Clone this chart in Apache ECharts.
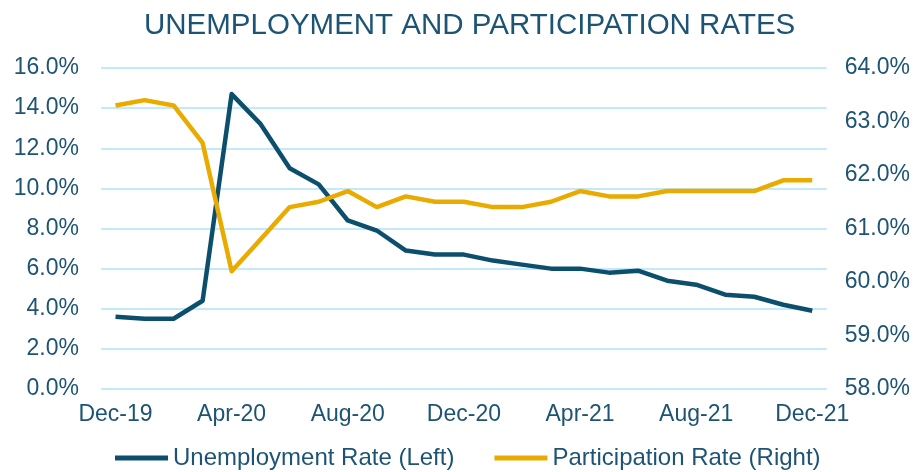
<!DOCTYPE html>
<html>
<head>
<meta charset="utf-8">
<script src="https://cdn.jsdelivr.net/npm/echarts@6/dist/echarts.min.js"></script>
<style>
html,body{margin:0;padding:0;background:#fff}
#main{width:913px;height:472px}
</style>
</head>
<body>
<div id="main"></div>
<script>
// months Dec-19 .. Dec-21
let months=["Dec-19","Jan-20","Feb-20","Mar-20","Apr-20","May-20","Jun-20","Jul-20","Aug-20","Sep-20","Oct-20","Nov-20","Dec-20",
    "Jan-21","Feb-21","Mar-21","Apr-21","May-21","Jun-21","Jul-21","Aug-21","Sep-21","Oct-21","Nov-21","Dec-21"]
let unemployment=[3.6,3.5,3.5,4.4,14.7,13.2,11.0,10.2,8.4,7.9,6.9,6.7,6.7,6.4,6.2,6.0,6.0,5.8,5.9,5.4,5.2,4.7,4.6,4.2,3.9]
let participation=[63.3,63.4,63.3,62.6,60.2,60.8,61.4,61.5,61.7,61.4,61.6,61.5,61.5,61.4,61.4,61.5,61.7,61.6,61.6,61.7,61.7,61.7,61.7,61.9,61.9]
let series_names=["Unemployment Rate (Left)","Participation Rate (Right)"]

let txtColor='#1d5474'
let fontName="'Liberation Sans', Arial, sans-serif"
let chart=echarts.init(document.getElementById('main'))
chart.setOption({
    animation:false,
    color:['#0c4f6c','#e9ab00'],
    title:{
        text:'UNEMPLOYMENT AND PARTICIPATION RATES',
        left:139,
        top:6,
        textStyle:{color:txtColor,fontSize:29.5,fontWeight:'normal',fontFamily:fontName}
    },
    legend:{
        top:441,
        left:110,
        icon:'rect',
        itemWidth:53,
        itemHeight:5,
        itemGap:40,
        textStyle:{color:txtColor,fontSize:24,fontFamily:fontName},
        data:series_names
    },
    grid:{left:101,right:86,top:68,bottom:83},
    xAxis:{
        type:'category',
        data:months,
        boundaryGap:true,
        axisLine:{show:false},
        axisTick:{show:false},
        axisLabel:{interval:3,color:txtColor,fontSize:23,fontFamily:fontName,margin:14}
    },
    yAxis:[
        {
            type:'value',min:0,max:16,interval:2,
            axisLabel:{formatter:v=>v.toFixed(1)+'%',color:txtColor,fontSize:23,fontFamily:fontName,margin:22},
            splitLine:{lineStyle:{color:'#c3eafb',width:2}},
            axisLine:{show:false},axisTick:{show:false}
        },
        {
            type:'value',min:58,max:64,interval:1,
            axisLabel:{formatter:v=>v.toFixed(1)+'%',color:txtColor,fontSize:23,fontFamily:fontName,margin:18},
            splitLine:{show:false},
            axisLine:{show:false},axisTick:{show:false}
        }
    ],
    series:[
        {name:series_names[0],type:'line',yAxisIndex:0,data:unemployment,showSymbol:false,lineStyle:{width:4.5,join:'round'}},
        {name:series_names[1],type:'line',yAxisIndex:1,data:participation,showSymbol:false,lineStyle:{width:4.5,join:'round'}}
    ]
})
</script>
</body>
</html>
